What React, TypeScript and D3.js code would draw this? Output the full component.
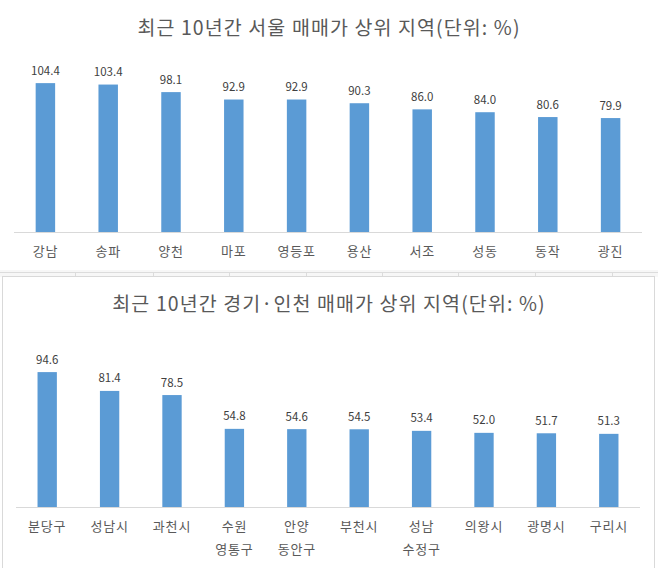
import { useEffect, useRef } from 'react';
import * as d3 from 'd3';

const seoulTitle = '최근 10년간 서울 매매가 상위 지역(단위: %)';
const seoulRegions = ['강남', '송파', '양천', '마포', '영등포', '용산', '서조', '성동', '동작', '광진'];
const seoulValues = [104.4, 103.4, 98.1, 92.9, 92.9, 90.3, 86.0, 84.0, 80.6, 79.9];

const gyeonggiTitle = '최근 10년간 경기·인천 매매가 상위 지역(단위: %)';
const gyeonggiRegions = ['분당구', '성남시', '과천시', '수원\n영통구', '안양\n동안구', '부천시', '성남\n수정구', '의왕시', '광명시', '구리시'];
const gyeonggiValues = [94.6, 81.4, 78.5, 54.8, 54.6, 54.5, 53.4, 52.0, 51.7, 51.3];

const yDomainMax = 120;
const sheetColumns = [75, 153, 229, 306, 382, 458, 535, 612];

const W = 658;
const H = 568;
const FONT = '"Noto Sans CJK KR", "Noto Sans", sans-serif';
const BAR = '#5b9bd5';

type ChartSpec = {
  title: string;
  regions: string[];
  values: number[];
  titleY: number;
  baseline: number;
  x0: number;
  x1: number;
};

function drawChart(svg: d3.Selection<SVGSVGElement, unknown, null, undefined>, spec: ChartSpec) {
  const g = svg.append('g');

  const x = d3.scaleBand<string>()
    .domain(spec.regions)
    .range([spec.x0, spec.x1])
    .paddingInner(0.69)
    .paddingOuter(0.345);

  const y = d3.scaleLinear()
    .domain([0, yDomainMax])
    .range([spec.baseline, spec.baseline - yDomainMax * 1.426]);

  g.append('text')
    .attr('x', W / 2)
    .attr('y', spec.titleY)
    .attr('dy', '0.35em')
    .attr('text-anchor', 'middle')
    .attr('fill', '#595959')
    .attr('font-size', '19.5px')
    .attr('letter-spacing', '1.1px')
    .attr('font-family', FONT)
    .text(spec.title);

  const rows = spec.regions.map((r, i) => ({ r, v: spec.values[i] }));

  g.selectAll('.bar')
    .data(rows)
    .join('rect')
    .attr('class', 'bar')
    .attr('x', (d) => x(d.r)!)
    .attr('y', (d) => y(d.v))
    .attr('width', x.bandwidth())
    .attr('height', (d) => y(0) - y(d.v))
    .attr('fill', BAR);

  g.selectAll('.val')
    .data(rows)
    .join('text')
    .attr('class', 'val')
    .attr('x', (d) => x(d.r)! + x.bandwidth() / 2)
    .attr('y', (d) => y(d.v) - 12.5)
    .attr('dy', '0.35em')
    .attr('text-anchor', 'middle')
    .attr('fill', '#404040')
    .attr('font-size', '11.5px')
    .attr('font-family', FONT)
    .text((d) => d.v.toFixed(1));

  // baseline
  g.append('line')
    .attr('x1', spec.x0)
    .attr('x2', spec.x1)
    .attr('y1', y(0) + 0.5)
    .attr('y2', y(0) + 0.5)
    .attr('stroke', '#d9d9d9')
    .attr('stroke-width', 1);

  // category labels (may wrap to two lines)
  const labels = g.selectAll('.cat')
    .data(rows)
    .join('text')
    .attr('class', 'cat')
    .attr('text-anchor', 'middle')
    .attr('fill', '#595959')
    .attr('font-size', '13px')
    .attr('letter-spacing', '0.8px')
    .attr('font-family', FONT);

  labels.each(function (d) {
    const t = d3.select(this);
    const cx = x(d.r)! + x.bandwidth() / 2;
    d.r.split('\n').forEach((line, i) => {
      t.append('tspan')
        .attr('x', cx)
        .attr('y', y(0) + 19 + i * 23)
        .attr('dy', '0.35em')
        .text(line);
    });
  });
}

export default function App() {
  const svgRef = useRef<SVGSVGElement>(null);

  useEffect(() => {
    if (!svgRef.current) return;
    const svg = d3.select(svgRef.current);
    svg.selectAll('*').remove();

    svg.append('rect').attr('width', W).attr('height', H).attr('fill', '#ffffff');

    // spreadsheet gap between the two pasted charts
    svg.append('rect').attr('x', 0).attr('y', 270).attr('width', W).attr('height', 7).attr('fill', '#f7f7f7');
    svg.append('line')
      .attr('x1', 0).attr('x2', W).attr('y1', 272.5).attr('y2', 272.5)
      .attr('stroke', '#dcdcdc');
    svg.selectAll('.col')
      .data(sheetColumns)
      .join('line')
      .attr('class', 'col')
      .attr('x1', (d) => d + 0.5).attr('x2', (d) => d + 0.5)
      .attr('y1', 272).attr('y2', 277)
      .attr('stroke', '#dcdcdc');

    // frame of lower chart
    svg.append('rect')
      .attr('x', 2.5).attr('y', 276.5)
      .attr('width', 652).attr('height', 300)
      .attr('fill', '#ffffff')
      .attr('stroke', '#d9d9d9');

    drawChart(svg, {
      title: seoulTitle,
      regions: seoulRegions,
      values: seoulValues,
      titleY: 28,
      baseline: 232,
      x0: 14,
      x1: 642,
    });

    drawChart(svg, {
      title: gyeonggiTitle,
      regions: gyeonggiRegions,
      values: gyeonggiValues,
      titleY: 304,
      baseline: 507,
      x0: 16,
      x1: 640,
    });
  }, []);

  return (
    <div style={{ position: 'absolute', left: 0, top: 0 }}>
      <svg ref={svgRef} width={W} height={H} style={{ display: 'block' }} />
    </div>
  );
}
